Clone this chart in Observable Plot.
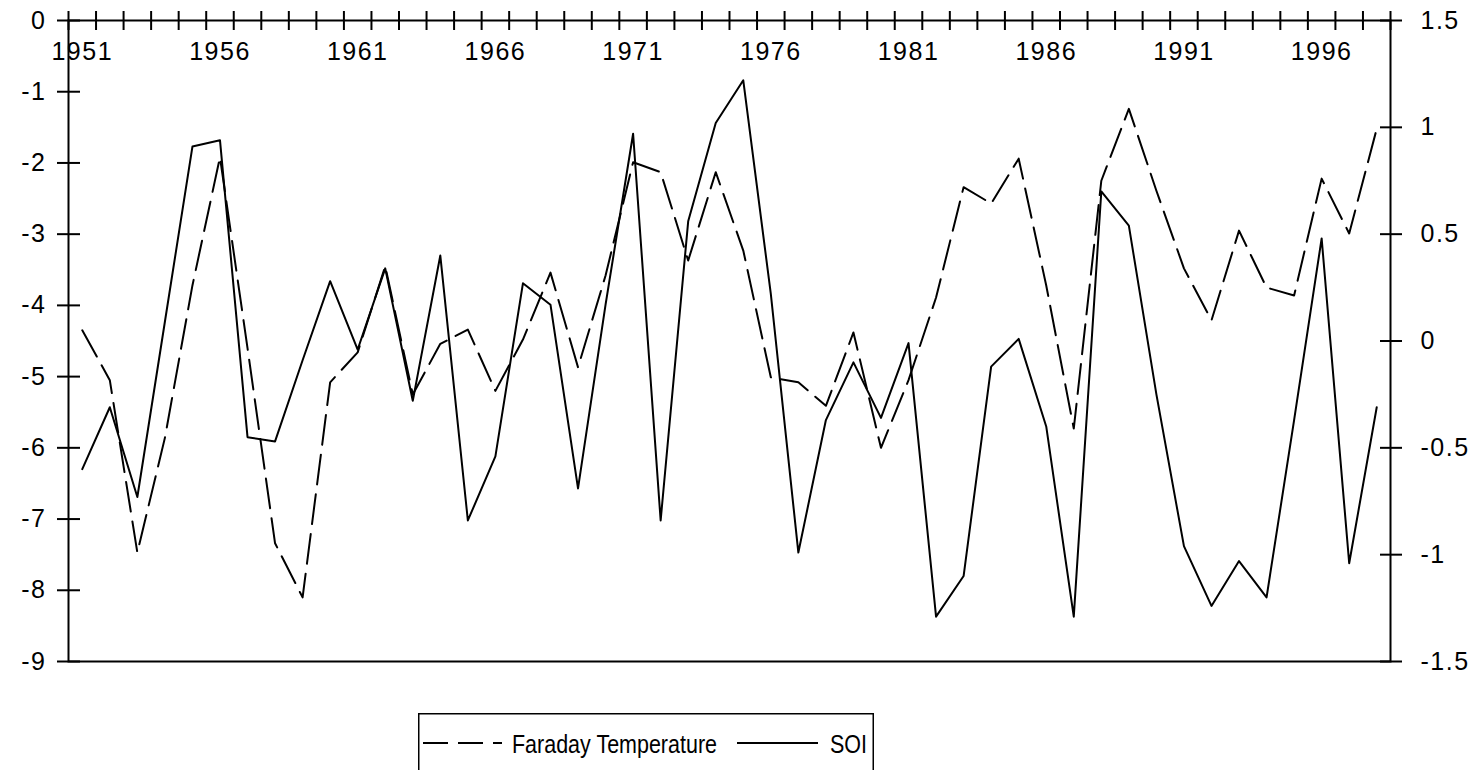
<!DOCTYPE html>
<html><head><meta charset="utf-8">
<script src="https://cdn.jsdelivr.net/npm/d3@7"></script>
<script src="https://cdn.jsdelivr.net/npm/@observablehq/plot@0.6"></script>
<style>
html,body{margin:0;padding:0;background:#fff;}
#chart{position:absolute;left:0;top:0;}
#legend{position:absolute;left:418px;top:713px;}
</style></head><body>
<div id="chart"></div>
<div id="legend"></div>
<script>
const years = [1951,1952,1953,1954,1955,1956,1957,1958,1959,1960,1961,1962,1963,1964,1965,1966,1967,1968,1969,1970,1971,1972,1973,1974,1975,1976,1977,1978,1979,1980,1981,1982,1983,1984,1985,1986,1987,1988,1989,1990,1991,1992,1993,1994,1995,1996,1997,1998];
const faraday = [-4.35,-5.05,-7.47,-5.86,-3.72,-1.92,-4.6,-7.34,-8.1,-5.08,-4.66,-3.45,-5.25,-4.54,-4.34,-5.2,-4.48,-3.54,-4.87,-3.58,-1.99,-2.13,-3.37,-2.13,-3.23,-5.01,-5.08,-5.41,-4.38,-6.0,-5.05,-3.89,-2.34,-2.57,-1.94,-3.72,-5.73,-2.25,-1.24,-2.39,-3.48,-4.21,-2.95,-3.75,-3.86,-2.22,-2.99,-1.52];
const soi = [-0.60,-0.31,-0.73,0.09,0.91,0.94,-0.45,-0.47,-0.09,0.28,-0.04,0.34,-0.28,0.40,-0.84,-0.54,0.27,0.17,-0.69,0.17,0.97,-0.84,0.56,1.02,1.22,0.22,-0.99,-0.37,-0.10,-0.36,-0.01,-1.29,-1.10,-0.12,0.01,-0.40,-1.29,0.70,0.54,-0.25,-0.96,-1.24,-1.03,-1.20,-0.37,0.48,-1.04,-0.31];
const leftTicks = [0,-1,-2,-3,-4,-5,-6,-7,-8,-9];
const rightTicks = [1.5,1,0.5,0,-0.5,-1,-1.5];
const yearLabels = [1951,1956,1961,1966,1971,1976,1981,1986,1991,1996];
const seriesNames = ["Faraday Temperature","SOI"];

// map the right (SOI) axis onto the left axis scale: 1.5 -> 0, -1.5 -> -9
const toLeft = v => (v - 1.5) * 3;
const rows = years.map((year, i) => ({year, faraday: faraday[i], soi: soi[i], soiLeft: toLeft(soi[i])}));
const boundaries = years.map(y => y - 0.5).concat([years[years.length - 1] + 0.5]);

const W = 1477, H = 700, mL = 68, mR = 87, mT = 20, mB = 39;
const plotW = W - mL - mR, plotH = H - mT - mB;
const font = "'Liberation Sans', Arial, Helvetica, sans-serif";

const chart = Plot.plot({
  width: W, height: H,
  marginLeft: mL, marginRight: mR, marginTop: mT, marginBottom: mB,
  style: {fontFamily: font, fontSize: "25px", color: "#000", background: "#fff", letterSpacing: "1.5px"},
  x: {domain: [boundaries[0], boundaries[boundaries.length - 1]], axis: null},
  y: {domain: [-9, 0], axis: null},
  marks: [
    Plot.line(rows, {x: "year", y: "faraday", stroke: "#000", strokeWidth: 2, strokeDasharray: "30,10"}),
    Plot.line(rows, {x: "year", y: "soiLeft", stroke: "#000", strokeWidth: 2}),
    Plot.frame({stroke: "#000", strokeWidth: 2}),
    Plot.ruleX(boundaries, {x: d => d, stroke: "#000", strokeWidth: 2, insetTop: -9, insetBottom: plotH - 10}),
    Plot.ruleY(leftTicks, {y: d => d, stroke: "#000", strokeWidth: 2, insetLeft: -11, insetRight: plotW - 12}),
    Plot.ruleY(rightTicks, {y: d => toLeft(d), stroke: "#000", strokeWidth: 2, insetLeft: plotW - 10, insetRight: -12}),
    Plot.text(yearLabels, {x: d => d, y: leftTicks[0], dy: 31, text: d => String(d), fill: "#000", fontSize: 25}),
    Plot.text(leftTicks, {y: d => d, frameAnchor: "left", dx: -22, textAnchor: "end", text: d => String(d), fill: "#000", fontSize: 25}),
    Plot.text(rightTicks, {y: d => toLeft(d), frameAnchor: "right", dx: 30, textAnchor: "start", text: d => String(d), fill: "#000", fontSize: 25})
  ]
});
document.getElementById("chart").appendChild(chart);

// legend
const lg = d3.select("#legend").append("svg").attr("width", 457).attr("height", 57)
  .style("display", "block").style("overflow", "hidden");
lg.append("rect").attr("x", 0.75).attr("y", 0.75).attr("width", 454.5).attr("height", 80)
  .attr("fill", "#fff").attr("stroke", "#000").attr("stroke-width", 1.5);
lg.append("line").attr("x1", 5).attr("x2", 84).attr("y1", 30).attr("y2", 30)
  .attr("stroke", "#000").attr("stroke-width", 2).attr("stroke-dasharray", "25,10");
lg.append("text").attr("x", 94).attr("y", 40).text(seriesNames[0])
  .attr("font-family", font).attr("font-size", 25).attr("textLength", 205).attr("lengthAdjust", "spacingAndGlyphs");
lg.append("line").attr("x1", 319).attr("x2", 400).attr("y1", 30).attr("y2", 30)
  .attr("stroke", "#000").attr("stroke-width", 2);
lg.append("text").attr("x", 412).attr("y", 40).text(seriesNames[1])
  .attr("font-family", font).attr("font-size", 25).attr("textLength", 37).attr("lengthAdjust", "spacingAndGlyphs");
</script>
</body></html>
